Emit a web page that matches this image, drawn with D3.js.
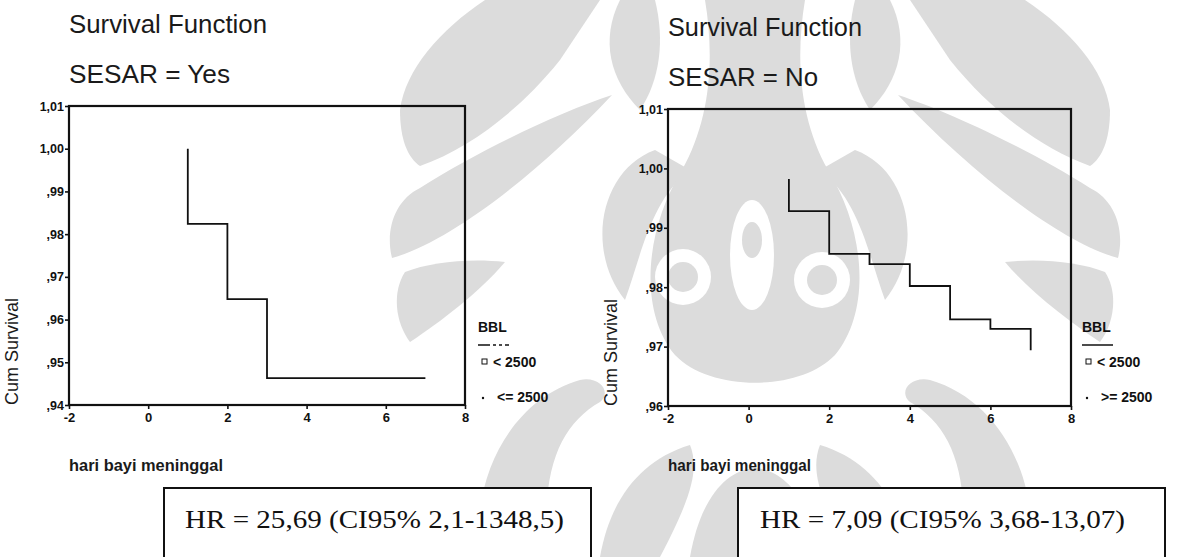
<!DOCTYPE html>
<html><head><meta charset="utf-8">
<script src="https://cdn.jsdelivr.net/npm/d3@7"></script>
<style>body{margin:0;background:#fff}svg{display:block}</style>
</head><body><svg id="c" width="1192" height="557"></svg>
<script>
// ---------- data ----------
const xTicks = [-2, 0, 2, 4, 6, 8];
const xTickLabels = ["-2", "0", "2", "4", "6", "8"];
const leftYTicks = [1.01, 1.00, 0.99, 0.98, 0.97, 0.96, 0.95, 0.94];
const leftYTickLabels = ["1,01", "1,00", ",99", ",98", ",97", ",96", ",95", ",94"];
const rightYTicks = [1.01, 1.00, 0.99, 0.98, 0.97, 0.96];
const rightYTickLabels = ["1,01", "1,00", ",99", ",98", ",97", ",96"];

const leftStartTime = 1, leftStartSurv = 1.00;
const leftEventTimes = [1, 2, 3];
const leftSurvival = [0.9824, 0.9648, 0.9463];
const leftEndTime = 7;

const rightStartTime = 1, rightStartSurv = 0.9982;
const rightEventTimes = [1, 2, 3, 4, 5, 6, 7];
const rightSurvival = [0.9928, 0.9856, 0.9839, 0.9802, 0.9746, 0.9730, 0.9694];
const rightEndTime = 7;

const legendTitle = "BBL";
const leftLegendLabels = ["< 2500", "<= 2500"];
const rightLegendLabels = ["< 2500", ">= 2500"];
const titles = ["Survival Function", "Survival Function"];
const subtitles = ["SESAR = Yes", "SESAR = No"];
const xLabel = "hari bayi meninggal";
const yLabel = "Cum Survival";
const hrTexts = ["HR = 25,69 (CI95% 2,1-1348,5)", "HR = 7,09 (CI95% 3,68-13,07)"];

// ---------- drawing ----------
const svg = d3.select("#c");
const SANS = "'Liberation Sans', Arial, sans-serif";
const SERIF = "'Liberation Serif', 'Times New Roman', serif";
const WM = "#dcdcdc";

// faint watermark ornament of the scanned page (decorative background)
function ornamentHalf(g) {
  g.append("path").attr("d", "M485,0 C440,30 405,70 400,110 C400,140 408,158 420,166 C470,148 520,110 560,60 L600,0 Z");
  g.append("path").attr("d", "M420,188 C395,200 385,230 392,258 C450,242 540,172 612,95 C560,112 480,150 420,188 Z");
  g.append("path").attr("d", "M405,272 C392,292 395,322 410,342 C440,322 480,292 505,262 C470,258 430,262 405,272 Z");
  g.append("path").attr("d", "M480,557 C470,480 510,400 580,380 C600,376 612,392 600,402 C560,425 540,470 548,557 Z");
  g.append("path").attr("d", "M620,0 C600,40 610,80 640,110 C660,80 665,40 655,0 Z");
  g.append("path").attr("d", "M655,150 C600,170 585,250 625,300 C640,260 650,200 690,170 Z");
  g.append("path").attr("d", "M600,557 C610,500 640,460 690,445 C700,470 690,500 660,557 Z");
}
const wmL = svg.append("g").attr("fill", WM);
ornamentHalf(wmL);
const wmR = svg.append("g").attr("fill", WM).attr("transform", "translate(1510,0) scale(-1,1)");
ornamentHalf(wmR);
const wmC = svg.append("g").attr("fill", WM);
wmC.append("path").attr("d", "M705,0 L805,0 C795,60 800,120 828,170 C865,230 872,310 835,355 C800,392 710,392 675,355 C638,310 645,230 682,170 C710,120 715,60 705,0 Z");
wmC.append("path").attr("d", "M690,557 C700,500 725,470 755,468 C785,470 810,500 820,557 Z");
const wmW = svg.append("g").attr("fill", "#fff");
wmW.append("ellipse").attr("cx", 752).attr("cy", 255).attr("rx", 22).attr("ry", 55);
wmW.append("circle").attr("cx", 683).attr("cy", 277).attr("r", 28);
wmW.append("circle").attr("cx", 822).attr("cy", 280).attr("r", 28);
const wmI = svg.append("g").attr("fill", WM);
wmI.append("ellipse").attr("cx", 752).attr("cy", 240).attr("rx", 10).attr("ry", 18);
wmI.append("circle").attr("cx", 683).attr("cy", 277).attr("r", 15);
wmI.append("circle").attr("cx", 822).attr("cy", 280).attr("r", 15);

const panels = [
  { x0: 69, x1: 465, y0: 106, y1: 405, yTicks: leftYTicks, yLabels: leftYTickLabels, yDom: [0.94, 1.01],
    start: [leftStartTime, leftStartSurv], events: leftEventTimes, surv: leftSurvival, end: leftEndTime,
    legend: leftLegendLabels, lx: 478, titleY: 33, subY: 83, titleW: 198, subW: 161,
    ylabX: 18, box: [164, 488, 427], hrX: 185, hrW: 379, dashedLegend: true },
  { x0: 668, x1: 1071, y0: 109, y1: 406, yTicks: rightYTicks, yLabels: rightYTickLabels, yDom: [0.96, 1.01],
    start: [rightStartTime, rightStartSurv], events: rightEventTimes, surv: rightSurvival, end: rightEndTime,
    legend: rightLegendLabels, lx: 1082, titleY: 36, subY: 86, titleW: 194, subW: 150,
    ylabX: 617, box: [738, 488, 427], hrX: 760, hrW: 365, dashedLegend: false }
];

panels.forEach((p, i) => {
  const g = svg.append("g");
  const x = d3.scaleLinear().domain([-2, 8]).range([p.x0, p.x1]);
  const y = d3.scaleLinear().domain(p.yDom).range([p.y1, p.y0]);

  // titles
  g.append("text").attr("x", p.x0).attr("y", p.titleY).text(titles[i])
    .attr("font-family", SANS).attr("font-size", 25).attr("fill", "#1a1a1a")
    .attr("textLength", p.titleW).attr("lengthAdjust", "spacingAndGlyphs");
  g.append("text").attr("x", p.x0).attr("y", p.subY).text(subtitles[i])
    .attr("font-family", SANS).attr("font-size", 25).attr("fill", "#1a1a1a")
    .attr("textLength", p.subW).attr("lengthAdjust", "spacingAndGlyphs");

  // axes
  const ya = d3.axisLeft(y).tickValues(p.yTicks).tickSize(4).tickSizeOuter(0)
    .tickFormat((d, k) => p.yLabels[k]);
  const xa = d3.axisBottom(x).tickValues(xTicks).tickSize(4).tickSizeOuter(0)
    .tickFormat((d, k) => xTickLabels[k]);
  const gy = g.append("g").attr("transform", `translate(${p.x0},0)`).call(ya);
  const gx = g.append("g").attr("transform", `translate(0,${p.y1})`).call(xa);
  [gy, gx].forEach(a => {
    a.select(".domain").remove();
    a.selectAll("line").attr("stroke", "#111").attr("stroke-width", 1.6);
    a.selectAll("text").attr("font-family", SANS).attr("font-size", 12.5)
      .attr("font-weight", "bold").attr("fill", "#111");
  });
  gy.selectAll("text").attr("x", -5);
  gx.selectAll("text").attr("y", 8).attr("font-size", 13);

  // frame
  g.append("rect").attr("x", p.x0).attr("y", p.y0).attr("width", p.x1 - p.x0).attr("height", p.y1 - p.y0)
    .attr("fill", "none").attr("stroke", "#111").attr("stroke-width", 2.2);

  // survival step line
  const pts = [p.start];
  let prev = p.start[1];
  p.events.forEach((t, k) => { pts.push([t, prev]); pts.push([t, p.surv[k]]); prev = p.surv[k]; });
  const lastT = pts[pts.length - 1][0];
  if (p.end > lastT) pts.push([p.end, prev]);
  g.append("path").datum(pts)
    .attr("d", d3.line().x(d => x(d[0])).y(d => y(d[1])))
    .attr("fill", "none").attr("stroke", "#111").attr("stroke-width", 1.8);

  // y label
  g.append("text").attr("transform", `translate(${p.ylabX},${p.y1}) rotate(-90)`)
    .text(yLabel).attr("font-family", SANS).attr("font-size", 18).attr("fill", "#1a1a1a");
  // x label
  g.append("text").attr("x", p.x0).attr("y", 471).text(xLabel)
    .attr("font-family", SANS).attr("font-size", 16).attr("font-weight", "bold").attr("fill", "#1a1a1a")
    .attr("textLength", i === 0 ? 154 : 143).attr("lengthAdjust", "spacingAndGlyphs");

  // legend
  g.append("text").attr("x", p.lx).attr("y", 332).text(legendTitle)
    .attr("font-family", SANS).attr("font-size", 14).attr("font-weight", "bold").attr("fill", "#111");
  g.append("line").attr("x1", p.lx).attr("x2", p.lx + 31).attr("y1", 345).attr("y2", 345)
    .attr("stroke", "#111").attr("stroke-width", 1.5)
    .attr("stroke-dasharray", p.dashedLegend ? "12,3,3,3,3,3" : null);
  g.append("rect").attr("x", p.lx + 4).attr("y", 359).attr("width", 5).attr("height", 5)
    .attr("fill", "none").attr("stroke", "#111").attr("stroke-width", 1);
  g.append("text").attr("x", p.lx + 15).attr("y", 367).text(p.legend[0])
    .attr("font-family", SANS).attr("font-size", 14).attr("font-weight", "bold").attr("fill", "#111");
  g.append("circle").attr("cx", p.lx + 5).attr("cy", 398).attr("r", 1.2).attr("fill", "#111");
  g.append("text").attr("x", p.lx + 19).attr("y", 402).text(p.legend[1])
    .attr("font-family", SANS).attr("font-size", 14).attr("font-weight", "bold").attr("fill", "#111");

  // HR box
  g.append("rect").attr("x", p.box[0]).attr("y", p.box[1]).attr("width", p.box[2]).attr("height", 100)
    .attr("fill", "#fff").attr("stroke", "#111").attr("stroke-width", 2);
  g.append("text").attr("x", p.hrX).attr("y", 528).text(hrTexts[i])
    .attr("font-family", SERIF).attr("font-size", 25).attr("fill", "#111")
    .attr("textLength", p.hrW).attr("lengthAdjust", "spacingAndGlyphs");
});
</script></body></html>
